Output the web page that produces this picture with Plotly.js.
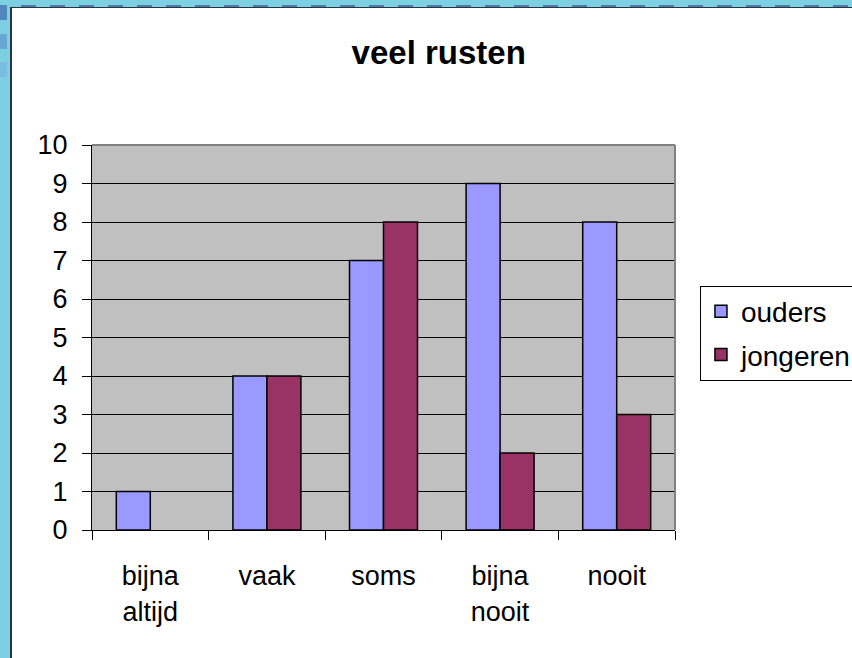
<!DOCTYPE html>
<html>
<head>
<meta charset="utf-8">
<script src="https://cdn.plot.ly/plotly-3.0.1.min.js"></script>
<style>
  html, body { margin: 0; padding: 0; width: 852px; height: 658px; overflow: hidden; background: #7dd0e2; position: relative; }
  #frame { position: absolute; left: 10px; top: 7px; width: 842px; height: 651px; border-left: 2px solid #263640; border-top: 1px solid #263640; box-sizing: border-box; background: #fff; }
  #chart { position: absolute; left: 0; top: 0; width: 840px; height: 650px; }
  .dash { position: absolute; top: 5px; height: 2px; width: 15px; background: #4d7aa8; }
  .blk { position: absolute; left: 0; width: 7px; height: 15px; }
</style>
</head>
<body>
<div class="blk" style="top:5px;background:#4f86bb"></div>
<div class="blk" style="top:34px;background:#69a7d2"></div>
<div class="blk" style="top:62px;background:#7abde0"></div>
<div id="dashes"></div>
<div id="frame"><div id="chart"></div></div>
<script>
// decorative dashed top edge
(function(){
  var d = document.getElementById('dashes');
  for (var x = 21; x < 852; x += 29) {
    var e = document.createElement('div');
    e.className = 'dash'; e.style.left = x + 'px';
    d.appendChild(e);
  }
})();

var categories = ['bijna<br>altijd', 'vaak', 'soms', 'bijna<br>nooit', 'nooit'];
var ouders = [1, 4, 7, 9, 8];
var jongeren = [0, 4, 8, 2, 3];
var yTicks = [0, 1, 2, 3, 4, 5, 6, 7, 8, 9, 10];

var FONT = 'Liberation Sans, Arial, sans-serif';
function outline(vals) { return vals.map(function(v){ return v === 0 ? 0 : 1.5; }); }

var traces = [
  { type: 'bar', name: 'ouders', x: categories, y: ouders, legendgroup: 'a', offsetgroup: 'a', showlegend: false,
    marker: { color: '#9999ff', line: { color: '#000', width: outline(ouders) } }, hoverinfo: 'none' },
  { type: 'bar', name: 'jongeren', x: categories, y: jongeren, legendgroup: 'b', offsetgroup: 'b', showlegend: false,
    marker: { color: '#993366', line: { color: '#000', width: outline(jongeren) } }, hoverinfo: 'none' },
  // legend entries (no bars drawn)
  { type: 'bar', name: 'ouders', x: categories, y: categories.map(function(){ return null; }), legendgroup: 'a', offsetgroup: 'a',
    marker: { color: '#9999ff', line: { color: '#000', width: 1.5 } }, hoverinfo: 'none' },
  { type: 'bar', name: 'jongeren', x: categories, y: categories.map(function(){ return null; }), legendgroup: 'b', offsetgroup: 'b',
    marker: { color: '#993366', line: { color: '#000', width: 1.5 } }, hoverinfo: 'none' }
];

var layout = {
  width: 840, height: 650,
  margin: { l: 80, r: 177, t: 137, b: 128 },
  paper_bgcolor: 'rgba(0,0,0,0)',
  plot_bgcolor: '#c0c0c0',
  font: { family: FONT, size: 28, color: '#000' },
  title: { text: '<b>veel rusten</b>', font: { family: FONT, size: 33, color: '#000' },
           x: 0.508, xref: 'container', xanchor: 'center', y: 0.931, yref: 'container', yanchor: 'middle' },
  barmode: 'group', bargap: 0.417, bargroupgap: 0,
  showlegend: true,
  legend: { x: 0.819, xref: 'container', xanchor: 'left', y: 0.50, yref: 'container', yanchor: 'middle', bgcolor: '#fff',
            bordercolor: '#000', borderwidth: 1, font: { family: FONT, size: 28 },
            tracegroupgap: 4, traceorder: 'grouped' },
  xaxis: { type: 'category', showgrid: false, showline: true, linecolor: '#000', linewidth: 1,
           ticks: 'outside', tickson: 'boundaries', ticklen: 9, tickcolor: '#000', tickwidth: 1,
           ticklabelstandoff: 22, tickfont: { family: FONT, size: 27 }, zeroline: false, fixedrange: true },
  yaxis: { range: [0, 10], tickvals: yTicks, ticktext: yTicks.map(String), showgrid: true, gridcolor: '#000', gridwidth: 1,
           showline: true, linecolor: '#000', linewidth: 1, ticks: 'outside', ticklen: 9, tickcolor: '#000',
           ticklabelstandoff: 9, tickfont: { family: FONT, size: 27 }, zeroline: false, fixedrange: true },
  shapes: [
    { type: 'line', xref: 'paper', yref: 'paper', x0: 0, x1: 1, y0: 1, y1: 1, line: { color: '#808080', width: 2 } },
    { type: 'line', xref: 'paper', yref: 'paper', x0: 1, x1: 1, y0: 0, y1: 1, line: { color: '#808080', width: 2 } }
  ]
};

Plotly.newPlot('chart', traces, layout, { displayModeBar: false, staticPlot: true });
</script>
</body>
</html>
